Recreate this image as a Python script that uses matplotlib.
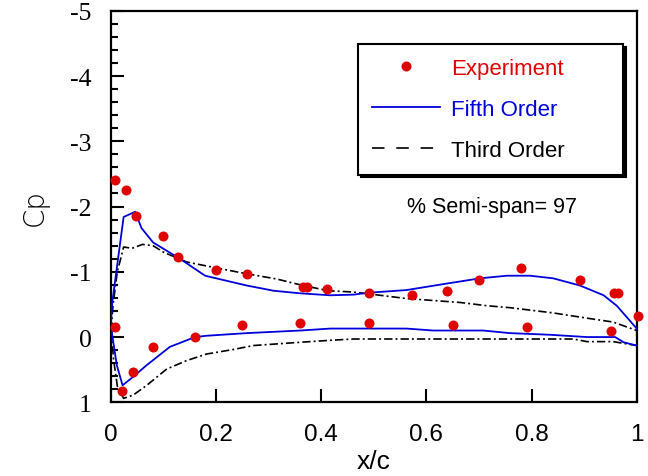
import matplotlib
matplotlib.use("Agg")
import matplotlib.pyplot as plt
from matplotlib.lines import Line2D
from matplotlib.ticker import MultipleLocator, FixedLocator

plt.rcParams["axes.unicode_minus"] = False
plt.rcParams["lines.scale_dashes"] = False

# Experimental pressure taps, upper and lower surface
exp_upper_x = [0.008, 0.028, 0.047, 0.0995, 0.128, 0.2, 0.259, 0.365, 0.372, 0.411,
               0.491, 0.572, 0.64, 0.70, 0.78, 0.892, 0.957, 0.965, 1.002]
exp_upper_cp = [-2.41, -2.26, -1.86, -1.55, -1.22, -1.03, -0.97, -0.77, -0.77, -0.74,
                -0.67, -0.64, -0.71, -0.87, -1.06, -0.87, -0.67, -0.67, -0.32]
exp_lower_x = [0.0076, 0.02, 0.041, 0.079, 0.16, 0.25, 0.36, 0.491, 0.651, 0.792, 0.952]
exp_lower_cp = [-0.15, 0.82, 0.54, 0.15, 0.0, -0.19, -0.22, -0.22, -0.19, -0.16, -0.10]

# Fifth-order scheme
fifth_upper_x = [0.0, 0.0025, 0.024, 0.046, 0.058, 0.08, 0.131, 0.179, 0.258, 0.309, 0.36,
                 0.417, 0.461, 0.491, 0.562, 0.639, 0.702, 0.753, 0.797, 0.841, 0.892,
                 0.937, 0.962, 1.0]
fifth_upper_cp = [-0.25, -0.54, -1.84, -1.92, -1.67, -1.45, -1.2, -0.94, -0.79, -0.71, -0.67,
                  -0.64, -0.65, -0.68, -0.72, -0.82, -0.90, -0.94, -0.94, -0.90, -0.79,
                  -0.64, -0.48, -0.13]
fifth_lower_x = [0.0, 0.002, 0.011, 0.022, 0.042, 0.068, 0.112, 0.16, 0.182, 0.258, 0.36,
                 0.417, 0.562, 0.613, 0.708, 0.759, 0.835, 0.905, 0.959, 0.975, 1.0]
fifth_lower_cp = [-0.25, -0.05, 0.43, 0.74, 0.61, 0.43, 0.15, 0.0, -0.02, -0.06, -0.10,
                  -0.13, -0.13, -0.10, -0.10, -0.06, -0.035, 0.0, 0.0, 0.08, 0.13]

# Third-order scheme
third_upper_x = [0.0, 0.004, 0.012, 0.024, 0.04, 0.06, 0.08, 0.1, 0.144, 0.2, 0.258, 0.315,
                 0.36, 0.413, 0.461, 0.512, 0.562, 0.664, 0.715, 0.759, 0.841, 0.905,
                 0.955, 1.0]
third_upper_cp = [-0.1, -0.5, -1.0, -1.38, -1.36, -1.42, -1.40, -1.30, -1.15, -1.06, -0.97,
                  -0.89, -0.80, -0.71, -0.69, -0.64, -0.59, -0.53, -0.48, -0.45, -0.37,
                  -0.29, -0.23, -0.10]
third_lower_x = [0.0, 0.005, 0.012, 0.024, 0.042, 0.068, 0.106, 0.144, 0.182, 0.233, 0.271,
                 0.36, 0.417, 0.461, 0.84, 0.88, 0.905, 0.955, 1.0]
third_lower_cp = [-0.1, 0.35, 0.75, 0.94, 0.89, 0.74, 0.49, 0.36, 0.26, 0.19, 0.13,
                  0.08, 0.05, 0.03, 0.03, 0.03, 0.07, 0.07, 0.13]

x_ticks = [0, 0.2, 0.4, 0.6, 0.8, 1]
x_tick_labels = ["0", "0.2", "0.4", "0.6", "0.8", "1"]
y_ticks = [-5, -4, -3, -2, -1, 0, 1]
y_tick_labels = ["-5", "-4", "-3", "-2", "-1", "0", "1"]

RED = "#e00000"
BLUE = "#0000dd"
DASHDOT = (6, 2.2, 1.4, 2.2)

fig = plt.figure(figsize=(6.48, 4.77), dpi=100)
ax = fig.add_axes([0.1713, 0.1545, 0.8113, 0.8208])

# Third order: one contour, trailing edge closed
ax.plot(third_upper_x + third_lower_x[::-1], third_upper_cp + third_lower_cp[::-1],
        color="black", lw=1.2, dashes=DASHDOT, zorder=2)
ax.plot(fifth_upper_x, fifth_upper_cp, color=BLUE, lw=1.3, zorder=3)
ax.plot(fifth_lower_x, fifth_lower_cp, color=BLUE, lw=1.3, zorder=3)
ax.plot(exp_upper_x + exp_lower_x, exp_upper_cp + exp_lower_cp, "o", color=RED,
        ms=7.2, mec="none", zorder=4, clip_on=False)

ax.set_xlim(0, 1)
ax.set_ylim(1, -5)

ax.xaxis.set_major_locator(FixedLocator(x_ticks))
ax.set_xticklabels(x_tick_labels, fontfamily="Liberation Sans", fontsize=17.5)
ax.yaxis.set_major_locator(FixedLocator(y_ticks))
ax.set_yticklabels(y_tick_labels, fontfamily="Liberation Serif", fontsize=18.5)
ax.yaxis.set_minor_locator(MultipleLocator(0.2))

ax.tick_params(axis="both", which="both", direction="in", top=False, right=False, width=1.5)
ax.tick_params(axis="y", which="major", length=9.5, pad=14)
ax.tick_params(axis="y", which="minor", length=5)
ax.tick_params(axis="x", which="major", length=9.5, pad=15)
ax.tick_params(axis="x", which="minor", bottom=False)
for sp in ax.spines.values():
    sp.set_linewidth(1.6)

ax.set_xlabel("x/c", fontfamily="Liberation Sans", fontsize=19, labelpad=3)
ax.set_ylabel("Cp", fontfamily="DejaVu Sans", fontsize=20, fontweight="light", labelpad=15)

handles = [
    Line2D([], [], ls="none", marker="o", color=RED, ms=7.2, mec="none"),
    Line2D([], [], color=BLUE, lw=1.3),
    Line2D([], [], color="black", lw=1.2, dashes=(9, 8.5)),
]
labels = ["Experiment", "Fifth Order", "Third Order"]
leg = ax.legend(handles, labels, loc="upper left", bbox_to_anchor=(0.47, 0.0, 0.504, 0.915),
                mode="expand", borderaxespad=0, fancybox=False, frameon=True,
                shadow={"color": "black", "alpha": 1.0},
                prop={"family": "Liberation Sans", "size": 16},
                handlelength=3.06, handletextpad=0.5, borderpad=0.62, labelspacing=0.9)
leg.get_frame().set_edgecolor("black")
leg.get_frame().set_linewidth(1.5)
for txt, col in zip(leg.get_texts(), [RED, BLUE, "black"]):
    txt.set_color(col)

ax.text(0.725, 0.501, "% Semi-span= 97", transform=ax.transAxes, ha="center", va="center",
        fontfamily="Liberation Sans", fontsize=15.5)

fig.savefig("out.png", dpi=100)
